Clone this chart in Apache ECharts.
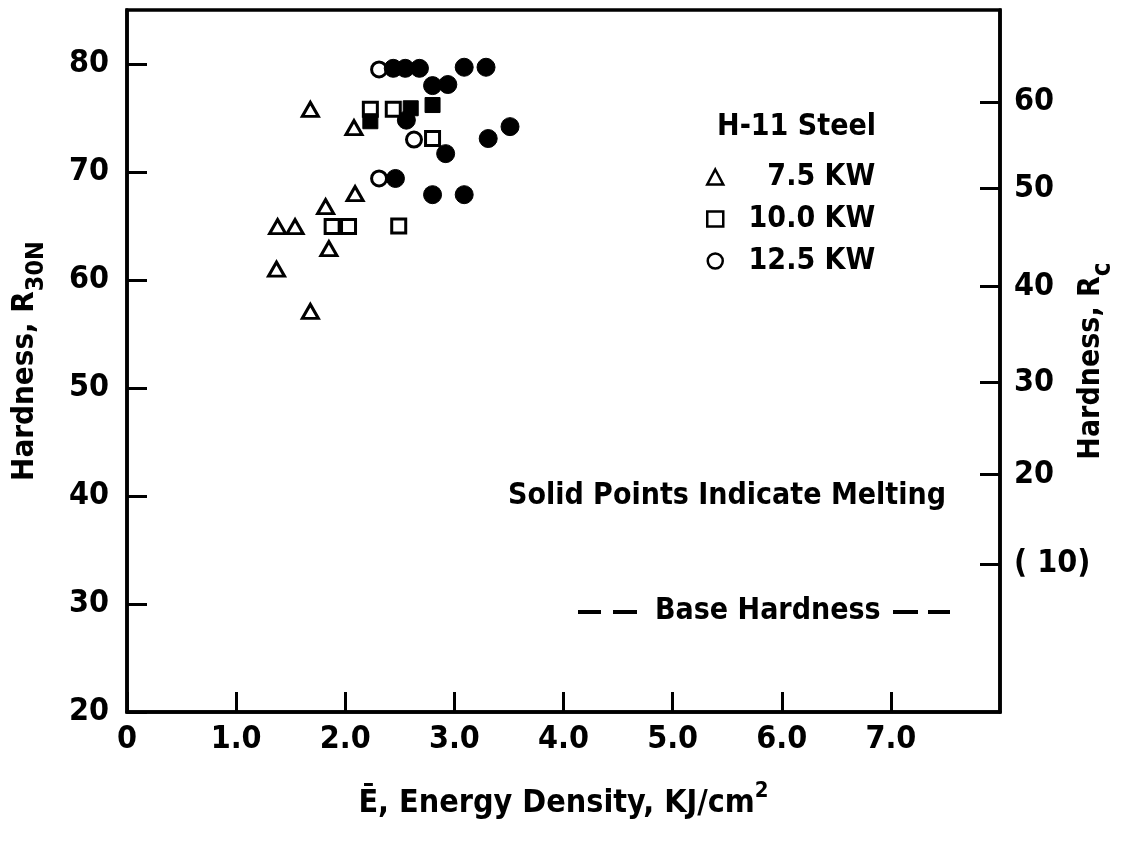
<!DOCTYPE html>
<html>
<head>
<meta charset="utf-8">
<script src="https://cdn.jsdelivr.net/npm/echarts@6/dist/echarts.min.js"></script>
<style>
html,body{margin:0;padding:0;background:#fff;}
#c{width:1132px;height:842px;}
</style>
</head>
<body>
<div id="c"></div>
<script>
// ---- data (E in KJ/cm^2, hardness R30N) ----
const tri75Open = [[1.68,75.8],[2.08,74.1],[2.09,68.0],[1.82,66.8],[1.38,64.95],[1.54,64.95],[1.85,62.9],[1.37,61.0],[1.68,57.1]];
const sq100Open = [[1.88,64.95],[2.03,64.95],[2.49,65.0],[2.23,75.8],[2.44,75.8],[2.80,73.1]];
const sq100Solid = [[2.23,74.7],[2.60,75.9],[2.80,76.2]];
const ci125Open = [[2.31,79.5],[2.31,69.4],[2.63,73.0]];
const ci125Solid = [[2.44,79.6],[2.55,79.6],[2.68,79.6],[3.09,79.7],[3.29,79.7],[2.80,78.0],[2.94,78.1],[2.56,74.8],[2.92,71.7],[2.46,69.4],[2.80,67.9],[3.09,67.9],[3.31,73.1],[3.51,74.2]];
const rcTickR30N = [76.5, 68.5, 59.4, 50.5, 42.0, 33.7];
const rcTickLabels = ['60','50','40','30','20','( 10)'];
const legendNames = ['7.5 KW','10.0 KW','12.5 KW'];

const FONT = '"Liberation Sans Narrow","DejaVu Sans Condensed",sans-serif';
const chart = echarts.init(document.getElementById('c'), null, {renderer:'canvas'});

const openStyle = {color:'#fff', borderColor:'#000', borderWidth:3, opacity:1};
const solidStyle = {color:'#000', borderColor:'#000', borderWidth:1, opacity:1};

chart.setOption({
  backgroundColor:'#fff',
  animation:false,
  grid:{left:127, right:132, top:10, bottom:130, containLabel:false, outerBoundsMode:'none',
        show:true, borderColor:'#000', borderWidth:3.5, backgroundColor:'transparent'},
  xAxis:{
    type:'value', min:0, max:8, interval:1,
    axisLine:{lineStyle:{color:'#000', width:3.5}},
    axisTick:{inside:true, length:20, lineStyle:{color:'#000', width:3}},
    splitLine:{show:false},
    axisLabel:{color:'#000', fontFamily:FONT, fontWeight:'bold', fontSize:32, margin:12, showMaxLabel:false,
      formatter:v=> v===0 ? '0' : v.toFixed(1)},
    name:'{a|Ē, Energy Density, KJ/cm}{s|2}', nameLocation:'middle', nameGap:68,
    nameTextStyle:{color:'#000', rich:{
      a:{fontFamily:FONT, fontWeight:'bold', fontSize:32, color:'#000', verticalAlign:'bottom', lineHeight:40},
      s:{fontFamily:FONT, fontWeight:'bold', fontSize:22, color:'#000', verticalAlign:'top', lineHeight:40, padding:[0,0,18,0]}
    }}
  },
  yAxis:[{
    type:'value', min:20, max:85, interval:10, position:'left',
    axisLine:{lineStyle:{color:'#000', width:3.5}},
    axisTick:{inside:true, length:20, lineStyle:{color:'#000', width:3}},
    splitLine:{show:false},
    axisLabel:{color:'#000', fontFamily:FONT, fontWeight:'bold', fontSize:32, margin:18, showMaxLabel:false},
    name:'{a|Hardness, R}{s|30N}', nameLocation:'middle', nameGap:78, nameRotate:90,
    nameTextStyle:{color:'#000', rich:{
      a:{fontFamily:FONT, fontWeight:'bold', fontSize:31, color:'#000', lineHeight:40, verticalAlign:'top'},
      s:{fontFamily:FONT, fontWeight:'bold', fontSize:25, color:'#000', lineHeight:40, verticalAlign:'bottom', padding:[18,0,0,0]}
    }}
  },{
    type:'value', min:20, max:85, position:'right',
    axisLine:{show:true, lineStyle:{color:'#000', width:3.5}},
    axisTick:{show:true, inside:true, length:20, customValues:rcTickR30N, lineStyle:{color:'#000', width:3}},
    splitLine:{show:false},
    axisLabel:{show:true, color:'#000', fontFamily:FONT, fontWeight:'bold', fontSize:32, margin:14, customValues:rcTickR30N,
      formatter:v=>{const i=rcTickR30N.findIndex(t=>Math.abs(t-v)<1e-6); return i>=0?rcTickLabels[i]:'';}},
    name:'{a|Hardness, R}{s|c}', nameLocation:'middle', nameGap:76, nameRotate:90, nameMoveOverlap:false,
    nameTextStyle:{color:'#000', rich:{
      a:{fontFamily:FONT, fontWeight:'bold', fontSize:30, color:'#000', lineHeight:40, verticalAlign:'top'},
      s:{fontFamily:FONT, fontWeight:'bold', fontSize:26, color:'#000', lineHeight:40, verticalAlign:'bottom', padding:[18,0,0,0]}
    }}
  }],
  legend:{
    data:legendNames, orient:'vertical', left:701, top:157, itemWidth:16, itemHeight:15, itemGap:12,
    selectedMode:false,
    itemStyle:{borderWidth:2.5},
    formatter:n=>'{t|'+n+'}',
    textStyle:{color:'#000', rich:{t:{fontFamily:FONT, fontWeight:'bold', fontSize:30, color:'#000', width:147, align:'right', lineHeight:28}}}
  },
  graphic:[
    {type:'text', right:1132-876, top:112, style:{text:'H-11 Steel', fill:'#000', font:'bold 30px '+FONT}},
    {type:'text', right:1132-946, top:481, style:{text:'Solid Points Indicate Melting', fill:'#000', font:'bold 30px '+FONT}},
    {type:'text', left:655, top:596, style:{text:'Base Hardness', fill:'#000', font:'bold 30px '+FONT}},
    {type:'line', shape:{x1:578,y1:612,x2:601,y2:612}, style:{stroke:'#000', lineWidth:4}},
    {type:'line', shape:{x1:613,y1:612,x2:637,y2:612}, style:{stroke:'#000', lineWidth:4}},
    {type:'line', shape:{x1:893,y1:612,x2:918,y2:612}, style:{stroke:'#000', lineWidth:4}},
    {type:'line', shape:{x1:928,y1:612,x2:950,y2:612}, style:{stroke:'#000', lineWidth:4}}
  ],
  series:[
    {name:'7.5 KW', type:'scatter', symbol:'triangle', symbolSize:[16,14], data:tri75Open, itemStyle:openStyle, z:3},
    {name:'10.0 KW', type:'scatter', symbol:'rect', symbolSize:14, data:sq100Open, itemStyle:openStyle, z:3},
    {name:'10.0 KW (melted)', type:'scatter', symbol:'rect', symbolSize:15, data:sq100Solid, itemStyle:solidStyle, z:4},
    {name:'12.5 KW', type:'scatter', symbol:'circle', symbolSize:15, data:ci125Open, itemStyle:openStyle, z:3},
    {name:'12.5 KW (melted)', type:'scatter', symbol:'circle', symbolSize:18, data:ci125Solid, itemStyle:solidStyle, z:4}
  ]
});
</script>
</body>
</html>
